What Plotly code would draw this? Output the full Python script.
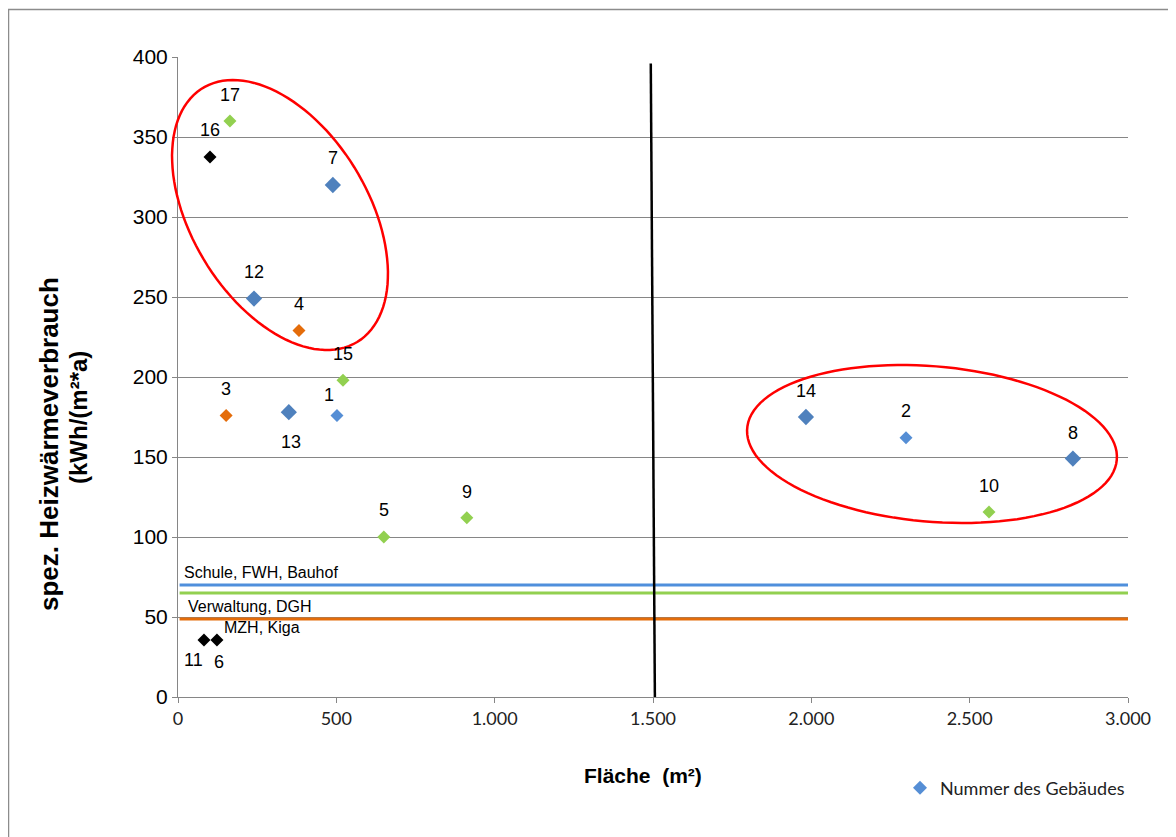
import numpy as np
import plotly.graph_objects as go

# ---------------- data ----------------
building_no = ["1", "2", "3", "4", "5", "6", "7", "8", "9", "10",
               "11", "12", "13", "14", "15", "16", "17"]
area_m2 = [502, 2299, 152, 382, 650, 123, 489, 2826, 912, 2561,
           82, 240, 350, 1983, 521, 101, 164]
heat_kwh = [176, 162, 176, 229, 100, 35.6, 320, 149, 112, 115.6,
            35.6, 249, 178, 175, 198, 337.5, 360]
point_colors = ["#558ED5", "#558ED5", "#E46C0A", "#E46C0A", "#92D050", "#000000",
                "#4F81BD", "#4F81BD", "#92D050", "#92D050", "#000000", "#4F81BD",
                "#4F81BD", "#4F81BD", "#92D050", "#000000", "#92D050"]
point_sizes = [10, 10, 10, 10, 10, 10, 12.5, 12.5, 10, 10,
               10, 12.5, 12.5, 12.5, 10, 10, 10]
# label offsets in pixels (dx, dy up)
label_dx = [-8, 0, 0, 0, 0, 2, 0, 0, 0, 0, -10, 0, 2, 0, 0, 0, 0]
label_dy = [20, 27, 26, 27, 27, -22, 27, 26, 26, 26, -20, 27, -30, 26, 26, 27, 26]

ref_names = ["Schule, FWH, Bauhof", "Verwaltung, DGH", "MZH, Kiga"]
ref_values = [70, 65, 48.75]
ref_colors = ["#4F8FDC", "#92D050", "#E46C0A"]

divider_x = [1493, 1506]
divider_y = [396, -2]

x_ticks = [0, 500, 1000, 1500, 2000, 2500, 3000]
x_ticktext = ["0", "500", "1.000", "1.500", "2.000", "2.500", "3.000"]
y_ticks = [0, 50, 100, 150, 200, 250, 300, 350, 400]

X_RANGE = [0, 3000]
Y_RANGE = [0, 400]

# ---------------- layout geometry ----------------
OFF = 8  # page body margin in the browser
W, H = 1176 - OFF, 837 - OFF
ML, MT = 178 - OFF, 57 - OFF
PW, PH = 950, 640
MR, MB = W - ML - PW, H - MT - PH


def pxx(px):  # page x pixel -> paper
    return (px - OFF - ML) / PW


def pxy(py):  # page y pixel -> paper
    return (MT + PH - (py - OFF)) / PH


fig = go.Figure()

fig.add_trace(go.Scatter(
    x=area_m2, y=heat_kwh, mode="markers",
    name="Nummer des Gebäudes",
    marker=dict(symbol="diamond", color=point_colors, size=point_sizes,
                opacity=1, line=dict(width=0)),
    showlegend=True, hoverinfo="x+y+text", text=building_no,
))

annotations = []
for n, xv, yv, dx, dy in zip(building_no, area_m2, heat_kwh, label_dx, label_dy):
    annotations.append(dict(x=xv, y=yv, xref="x", yref="y", text=n, showarrow=False,
                            xshift=dx, yshift=dy,
                            font=dict(family="Liberation Sans, Arial", size=18, color="#000")))

shapes = []
for v, c in zip(ref_values, ref_colors):
    shapes.append(dict(type="line", xref="x", yref="y", x0=X_RANGE[0] + 5, x1=3013,
                       y0=v, y1=v, line=dict(color=c, width=3), layer="above"))

shapes.append(dict(type="line", xref="x", yref="y", x0=divider_x[0], y0=divider_y[0],
                   x1=divider_x[1], y1=divider_y[1], line=dict(color="#000", width=2.5)))


def ellipse_path(cpx, cpy, a, b, theta_deg, n=120):
    t = np.linspace(0, 2 * np.pi, n)
    th = np.deg2rad(theta_deg)
    px = cpx + a * np.cos(t) * np.cos(th) - b * np.sin(t) * np.sin(th)
    py = cpy + a * np.cos(t) * np.sin(th) + b * np.sin(t) * np.cos(th)
    pts = [f"{pxx(x):.4f},{pxy(y):.4f}" for x, y in zip(px, py)]
    return "M" + " L".join(pts) + " Z"


shapes.append(dict(type="path", xref="paper", yref="paper",
                   path=ellipse_path(280, 215, 148.6, 88.3, 58.7),
                   line=dict(color="#FF0000", width=2.5)))
shapes.append(dict(type="path", xref="paper", yref="paper",
                   path=ellipse_path(932, 444, 185.5, 77.7, 4.87),
                   line=dict(color="#FF0000", width=2.5)))

# outer chart border
shapes.append(dict(type="rect", xref="paper", yref="paper",
                   x0=pxx(8.5), x1=1.2, y0=-0.4, y1=pxy(9.5),
                   line=dict(color="#8C8C8C", width=1.5), layer="below"))

ref_label_pos = [(182, 572), (186, 606), (222, 627)]
for name, (px, py) in zip(ref_names, ref_label_pos):
    annotations.append(dict(x=pxx(px), y=pxy(py), xref="paper", yref="paper",
                            xanchor="left", yanchor="middle", text=name, showarrow=False,
                            font=dict(family="Liberation Sans, Arial", size=16, color="#000")))

# y axis title (two lines)
annotations.append(dict(x=pxx(49), y=pxy(444), xref="paper", yref="paper",
                        text="<b>spez. Heizwärmeverbrauch</b>", textangle=-90, showarrow=False,
                        xanchor="center", yanchor="middle",
                        font=dict(family="Liberation Sans, Arial", size=26, color="#000")))
annotations.append(dict(x=pxx(78), y=pxy(418), xref="paper", yref="paper",
                        text="<b>(kWh/(m²*a)</b>", textangle=-90, showarrow=False,
                        xanchor="center", yanchor="middle",
                        font=dict(family="Liberation Sans, Arial", size=24, color="#000")))
# x axis title
annotations.append(dict(x=pxx(643), y=pxy(775), xref="paper", yref="paper",
                        text="<b>Fläche  (m²)</b>", showarrow=False,
                        xanchor="center", yanchor="middle",
                        font=dict(family="Liberation Sans, Arial", size=21, color="#000")))

fig.update_layout(
    width=W, height=H,
    margin=dict(l=ML, r=MR, t=MT, b=MB, pad=0),
    paper_bgcolor="white", plot_bgcolor="white",
    shapes=shapes, annotations=annotations,
    showlegend=True,
    legend=dict(x=pxx(900), y=pxy(788), xanchor="left", yanchor="middle",
                bgcolor="rgba(0,0,0,0)", itemwidth=30,
                font=dict(family="Lato, Open Sans", size=18, color="#222")),
    xaxis=dict(range=X_RANGE, tickvals=x_ticks, ticktext=x_ticktext, showgrid=False,
               showline=True, linecolor="#868686", linewidth=1, ticks="outside",
               ticklen=5, tickcolor="#868686", zeroline=False,
               tickfont=dict(family="Lato, Open Sans", size=18, color="#222")),
    yaxis=dict(range=Y_RANGE, tickvals=y_ticks, showgrid=True, gridcolor="#868686",
               gridwidth=1, showline=True, linecolor="#868686", linewidth=1,
               ticks="outside", ticklen=5, tickcolor="#868686", zeroline=False,
               tickfont=dict(family="Liberation Sans, Arial", size=21, color="#000")),
)

fig.write_html("out.html")
